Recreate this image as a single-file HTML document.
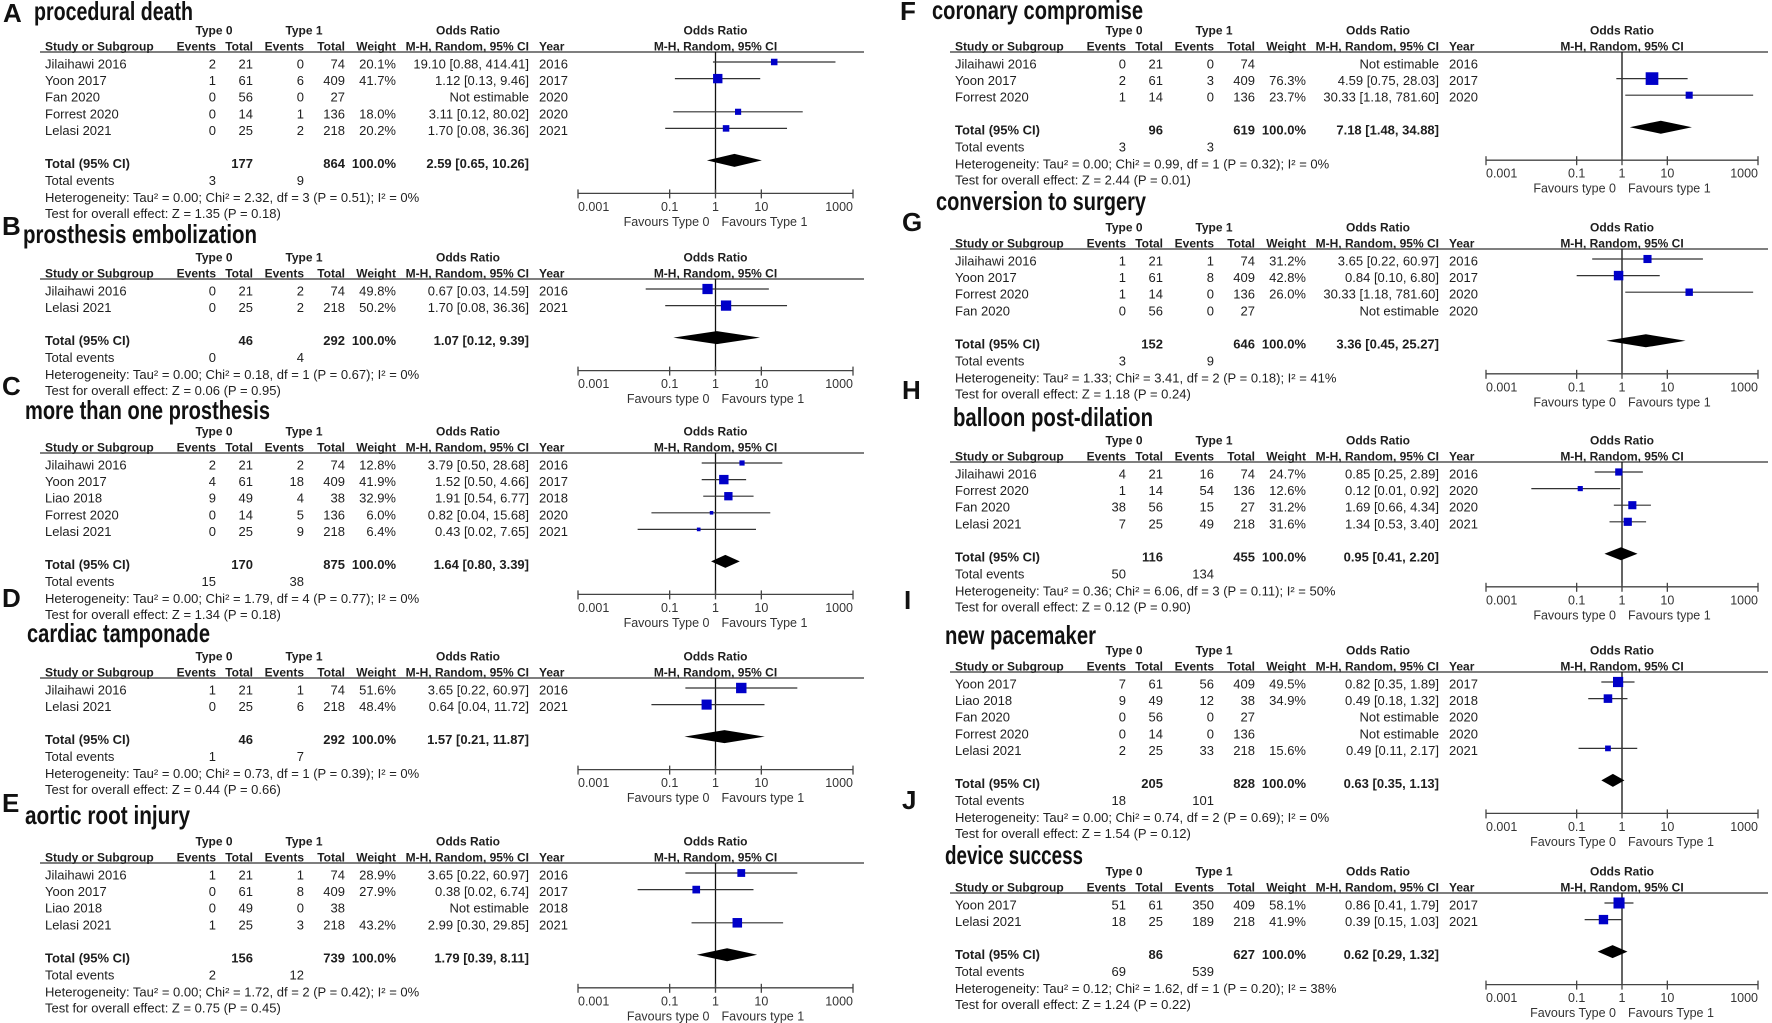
<!DOCTYPE html>
<html><head><meta charset="utf-8">
<style>
html,body{margin:0;padding:0;background:#fff;}
svg{display:block;}
text{font-family:"Liberation Sans",Arial,sans-serif;}
</style></head>
<body>
<svg id="fig" width="1772" height="1023" viewBox="0 0 1772 1023" xmlns="http://www.w3.org/2000/svg"></svg>
<script>
// ---- Panel A: procedural death ----
const A_study=["Jilaihawi 2016","Yoon 2017","Fan 2020","Forrest 2020","Lelasi 2021"];
const A_e0=[2,1,0,0,0], A_n0=[21,61,56,14,25], A_e1=[0,6,0,1,2], A_n1=[74,409,27,136,218];
const A_w=[20.1,41.7,null,18.0,20.2], A_or=[19.10,1.12,null,3.11,1.70], A_lo=[0.88,0.13,null,0.12,0.08], A_hi=[414.41,9.46,null,80.02,36.36];
const A_year=[2016,2017,2020,2020,2021];
const A_tot=[2.59,0.65,10.26], A_totN=[177,864], A_totE=[3,9];
// ---- Panel B: prosthesis embolization ----
const B_study=["Jilaihawi 2016","Lelasi 2021"];
const B_e0=[0,0], B_n0=[21,25], B_e1=[2,2], B_n1=[74,218];
const B_w=[49.8,50.2], B_or=[0.67,1.70], B_lo=[0.03,0.08], B_hi=[14.59,36.36], B_year=[2016,2021];
const B_tot=[1.07,0.12,9.39], B_totN=[46,292], B_totE=[0,4];
// ---- Panel C: more than one prosthesis ----
const C_study=["Jilaihawi 2016","Yoon 2017","Liao 2018","Forrest 2020","Lelasi 2021"];
const C_e0=[2,4,9,0,0], C_n0=[21,61,49,14,25], C_e1=[2,18,4,5,9], C_n1=[74,409,38,136,218];
const C_w=[12.8,41.9,32.9,6.0,6.4], C_or=[3.79,1.52,1.91,0.82,0.43], C_lo=[0.50,0.50,0.54,0.04,0.02], C_hi=[28.68,4.66,6.77,15.68,7.65];
const C_year=[2016,2017,2018,2020,2021];
const C_tot=[1.64,0.80,3.39], C_totN=[170,875], C_totE=[15,38];
// ---- Panel D: cardiac tamponade ----
const D_study=["Jilaihawi 2016","Lelasi 2021"];
const D_e0=[1,0], D_n0=[21,25], D_e1=[1,6], D_n1=[74,218];
const D_w=[51.6,48.4], D_or=[3.65,0.64], D_lo=[0.22,0.04], D_hi=[60.97,11.72], D_year=[2016,2021];
const D_tot=[1.57,0.21,11.87], D_totN=[46,292], D_totE=[1,7];
// ---- Panel E: aortic root injury ----
const E_study=["Jilaihawi 2016","Yoon 2017","Liao 2018","Lelasi 2021"];
const E_e0=[1,0,0,1], E_n0=[21,61,49,25], E_e1=[1,8,0,3], E_n1=[74,409,38,218];
const E_w=[28.9,27.9,null,43.2], E_or=[3.65,0.38,null,2.99], E_lo=[0.22,0.02,null,0.30], E_hi=[60.97,6.74,null,29.85];
const E_year=[2016,2017,2018,2021];
const E_tot=[1.79,0.39,8.11], E_totN=[156,739], E_totE=[2,12];
// ---- Panel F: coronary compromise ----
const F_study=["Jilaihawi 2016","Yoon 2017","Forrest 2020"];
const F_e0=[0,2,1], F_n0=[21,61,14], F_e1=[0,3,0], F_n1=[74,409,136];
const F_w=[null,76.3,23.7], F_or=[null,4.59,30.33], F_lo=[null,0.75,1.18], F_hi=[null,28.03,781.60], F_year=[2016,2017,2020];
const F_tot=[7.18,1.48,34.88], F_totN=[96,619], F_totE=[3,3];
// ---- Panel G: conversion to surgery ----
const G_study=["Jilaihawi 2016","Yoon 2017","Forrest 2020","Fan 2020"];
const G_e0=[1,1,1,0], G_n0=[21,61,14,56], G_e1=[1,8,0,0], G_n1=[74,409,136,27];
const G_w=[31.2,42.8,26.0,null], G_or=[3.65,0.84,30.33,null], G_lo=[0.22,0.10,1.18,null], G_hi=[60.97,6.80,781.60,null];
const G_year=[2016,2017,2020,2020];
const G_tot=[3.36,0.45,25.27], G_totN=[152,646], G_totE=[3,9];
// ---- Panel H: balloon post-dilation ----
const H_study=["Jilaihawi 2016","Forrest 2020","Fan 2020","Lelasi 2021"];
const H_e0=[4,1,38,7], H_n0=[21,14,56,25], H_e1=[16,54,15,49], H_n1=[74,136,27,218];
const H_w=[24.7,12.6,31.2,31.6], H_or=[0.85,0.12,1.69,1.34], H_lo=[0.25,0.01,0.66,0.53], H_hi=[2.89,0.92,4.34,3.40];
const H_year=[2016,2020,2020,2021];
const H_tot=[0.95,0.41,2.20], H_totN=[116,455], H_totE=[50,134];
// ---- Panel I: new pacemaker ----
const I_study=["Yoon 2017","Liao 2018","Fan 2020","Forrest 2020","Lelasi 2021"];
const I_e0=[7,9,0,0,2], I_n0=[61,49,56,14,25], I_e1=[56,12,0,0,33], I_n1=[409,38,27,136,218];
const I_w=[49.5,34.9,null,null,15.6], I_or=[0.82,0.49,null,null,0.49], I_lo=[0.35,0.18,null,null,0.11], I_hi=[1.89,1.32,null,null,2.17];
const I_year=[2017,2018,2020,2020,2021];
const I_tot=[0.63,0.35,1.13], I_totN=[205,828], I_totE=[18,101];
// ---- Panel J: device success ----
const J_study=["Yoon 2017","Lelasi 2021"];
const J_e0=[51,18], J_n0=[61,25], J_e1=[350,189], J_n1=[409,218];
const J_w=[58.1,41.9], J_or=[0.86,0.39], J_lo=[0.41,0.15], J_hi=[1.79,1.03], J_year=[2017,2021];
const J_tot=[0.62,0.29,1.32], J_totN=[86,627], J_totE=[69,539];
// ---- axis ticks ----
const tickVals=[0.001,0.1,1,10,1000];
const tickLabels=["0.001","0.1","1","10","1000"];

const panels=[
 {id:"a",letter:"A",title:"procedural death",tw:159,lx:3,ly:13,tx:34,ty:13,col:0,line:52,fav:"Type",
  s:A_study,e0:A_e0,n0:A_n0,e1:A_e1,n1:A_n1,w:A_w,or:A_or,lo:A_lo,hi:A_hi,yr:A_year,tot:A_tot,totN:A_totN,totE:A_totE,
  het:"Heterogeneity: Tau² = 0.00; Chi² = 2.32, df = 3 (P = 0.51); I² = 0%",test:"Test for overall effect: Z = 1.35 (P = 0.18)"},
 {id:"b",letter:"B",title:"prosthesis embolization",tw:234,lx:2,ly:226,tx:23,ty:236,col:0,line:279,fav:"type",
  s:B_study,e0:B_e0,n0:B_n0,e1:B_e1,n1:B_n1,w:B_w,or:B_or,lo:B_lo,hi:B_hi,yr:B_year,tot:B_tot,totN:B_totN,totE:B_totE,
  het:"Heterogeneity: Tau² = 0.00; Chi² = 0.18, df = 1 (P = 0.67); I² = 0%",test:"Test for overall effect: Z = 0.06 (P = 0.95)"},
 {id:"c",letter:"C",title:"more than one prosthesis",tw:245,lx:2,ly:386,tx:25,ty:412,col:0,line:453,fav:"Type",
  s:C_study,e0:C_e0,n0:C_n0,e1:C_e1,n1:C_n1,w:C_w,or:C_or,lo:C_lo,hi:C_hi,yr:C_year,tot:C_tot,totN:C_totN,totE:C_totE,
  het:"Heterogeneity: Tau² = 0.00; Chi² = 1.79, df = 4 (P = 0.77); I² = 0%",test:"Test for overall effect: Z = 1.34 (P = 0.18)"},
 {id:"d",letter:"D",title:"cardiac tamponade",tw:183,lx:2,ly:598,tx:27,ty:635,col:0,line:678,fav:"type",
  s:D_study,e0:D_e0,n0:D_n0,e1:D_e1,n1:D_n1,w:D_w,or:D_or,lo:D_lo,hi:D_hi,yr:D_year,tot:D_tot,totN:D_totN,totE:D_totE,
  het:"Heterogeneity: Tau² = 0.00; Chi² = 0.73, df = 1 (P = 0.39); I² = 0%",test:"Test for overall effect: Z = 0.44 (P = 0.66)"},
 {id:"e",letter:"E",title:"aortic root injury",tw:165,lx:2,ly:803,tx:25,ty:817,col:0,line:863,fav:"type",
  s:E_study,e0:E_e0,n0:E_n0,e1:E_e1,n1:E_n1,w:E_w,or:E_or,lo:E_lo,hi:E_hi,yr:E_year,tot:E_tot,totN:E_totN,totE:E_totE,
  het:"Heterogeneity: Tau² = 0.00; Chi² = 1.72, df = 2 (P = 0.42); I² = 0%",test:"Test for overall effect: Z = 0.75 (P = 0.45)"},
 {id:"f",letter:"F",title:"coronary compromise",tw:211,lx:900,ly:11,tx:932,ty:12,col:1,line:52,fav:"type",
  s:F_study,e0:F_e0,n0:F_n0,e1:F_e1,n1:F_n1,w:F_w,or:F_or,lo:F_lo,hi:F_hi,yr:F_year,tot:F_tot,totN:F_totN,totE:F_totE,
  het:"Heterogeneity: Tau² = 0.00; Chi² = 0.99, df = 1 (P = 0.32); I² = 0%",test:"Test for overall effect: Z = 2.44 (P = 0.01)"},
 {id:"g",letter:"G",title:"conversion to surgery",tw:210,lx:902,ly:222,tx:936,ty:203,col:1,line:249,fav:"type",
  s:G_study,e0:G_e0,n0:G_n0,e1:G_e1,n1:G_n1,w:G_w,or:G_or,lo:G_lo,hi:G_hi,yr:G_year,tot:G_tot,totN:G_totN,totE:G_totE,
  het:"Heterogeneity: Tau² = 1.33; Chi² = 3.41, df = 2 (P = 0.18); I² = 41%",test:"Test for overall effect: Z = 1.18 (P = 0.24)"},
 {id:"h",letter:"H",title:"balloon post-dilation",tw:200,lx:902,ly:390,tx:953,ty:419,col:1,line:462,fav:"type",
  s:H_study,e0:H_e0,n0:H_n0,e1:H_e1,n1:H_n1,w:H_w,or:H_or,lo:H_lo,hi:H_hi,yr:H_year,tot:H_tot,totN:H_totN,totE:H_totE,
  het:"Heterogeneity: Tau² = 0.36; Chi² = 6.06, df = 3 (P = 0.11); I² = 50%",test:"Test for overall effect: Z = 0.12 (P = 0.90)"},
 {id:"i",letter:"I",title:"new pacemaker",tw:151,lx:904,ly:600,tx:945,ty:637,col:1,line:672,fav:"Type",
  s:I_study,e0:I_e0,n0:I_n0,e1:I_e1,n1:I_n1,w:I_w,or:I_or,lo:I_lo,hi:I_hi,yr:I_year,tot:I_tot,totN:I_totN,totE:I_totE,
  het:"Heterogeneity: Tau² = 0.00; Chi² = 0.74, df = 2 (P = 0.69); I² = 0%",test:"Test for overall effect: Z = 1.54 (P = 0.12)"},
 {id:"j",letter:"J",title:"device success",tw:138,lx:902,ly:800,tx:945,ty:857,col:1,line:893,fav:"Type",
  s:J_study,e0:J_e0,n0:J_n0,e1:J_e1,n1:J_n1,w:J_w,or:J_or,lo:J_lo,hi:J_hi,yr:J_year,tot:J_tot,totN:J_totN,totE:J_totE,
  het:"Heterogeneity: Tau² = 0.12; Chi² = 1.62, df = 1 (P = 0.20); I² = 38%",test:"Test for overall effect: Z = 1.24 (P = 0.22)"}
];

const NS="http://www.w3.org/2000/svg";
const svg=document.getElementById("fig");
function mk(tag,attrs,parent,txt){
  const el=document.createElementNS(NS,tag);
  for(const k in attrs) el.setAttribute(k,attrs[k]);
  if(txt!==undefined) el.textContent=txt;
  (parent||svg).appendChild(el);
  return el;
}
function T(g,x,y,s,opt){
  opt=opt||{};
  const a={x:x,y:y+4.5,"font-size":opt.fs||(opt.hdr?12:13),fill:opt.fill||"#1e1e1e"};
  if(opt.anchor) a["text-anchor"]=opt.anchor;
  if(opt.bold) a["font-weight"]="bold";
  const t=mk("text",a,g,s);
  
  
  return t;
}
function fmt(v){return v.toFixed(2);}

panels.forEach(p=>{
  const off=p.col?910:0;
  const ax0=p.col?1486:578, ax1=p.col?1758:853;
  const xs=v=>ax0+(Math.log10(v)+3)/6*(ax1-ax0);
  const g=mk("g",{});
  
  
  const L=mk("text",{x:p.lx,y:p.ly+9,"font-size":26,"font-weight":"bold",fill:"#111"},g,p.letter);
  
  
  const TT=mk("text",{x:p.tx,y:p.ty+7,"font-size":26,"font-weight":"bold",fill:"#111","font-family":"Liberation Serif, serif",textLength:p.tw,lengthAdjust:"spacingAndGlyphs"},g,p.title);
  
  
  const ln=p.line;
  const hy1=ln-22, hy2=ln-6;
  T(g,off+214,hy1,"Type 0",{bold:1,hdr:1,anchor:"middle",name:"group-header"});
  T(g,off+304,hy1,"Type 1",{bold:1,hdr:1,anchor:"middle",name:"group-header"});
  T(g,off+468,hy1,"Odds Ratio",{bold:1,hdr:1,anchor:"middle",name:"column-header"});
  T(g,xs(1),hy1,"Odds Ratio",{bold:1,hdr:1,anchor:"middle",name:"plot-header"});
  T(g,off+45,hy2,"Study or Subgroup",{bold:1,hdr:1,name:"column-header"});
  T(g,off+216,hy2,"Events",{bold:1,hdr:1,anchor:"end",name:"column-header"});
  T(g,off+253,hy2,"Total",{bold:1,hdr:1,anchor:"end",name:"column-header"});
  T(g,off+304,hy2,"Events",{bold:1,hdr:1,anchor:"end",name:"column-header"});
  T(g,off+345,hy2,"Total",{bold:1,hdr:1,anchor:"end",name:"column-header"});
  T(g,off+396,hy2,"Weight",{bold:1,hdr:1,anchor:"end",name:"column-header"});
  T(g,off+529,hy2,"M-H, Random, 95% CI",{bold:1,hdr:1,anchor:"end",name:"column-header"});
  T(g,off+539,hy2,"Year",{bold:1,hdr:1,name:"column-header"});
  T(g,xs(1),hy2,"M-H, Random, 95% CI",{bold:1,hdr:1,anchor:"middle",name:"plot-header"});
  const hl=mk("line",{x1:off+40,x2:p.col?1768:864,y1:ln,y2:ln,stroke:"#333","stroke-width":1.3},g);
  
  
  const n=p.s.length;
  const rowY=i=>ln+10+i*16.6;
  const dY=rowY(n-1)+32;
  const axY=dY+33;
  const rl=mk("line",{x1:xs(1),x2:xs(1),y1:ln,y2:axY,stroke:"#111","stroke-width":1.3},g);
  
  
  for(let i=0;i<n;i++){
    const y=rowY(i)+2;
    T(g,off+45,y,p.s[i],{name:"study-name"});
    T(g,off+216,y,String(p.e0[i]),{anchor:"end",name:"events-type0"});
    T(g,off+253,y,String(p.n0[i]),{anchor:"end",name:"total-type0"});
    T(g,off+304,y,String(p.e1[i]),{anchor:"end",name:"events-type1"});
    T(g,off+345,y,String(p.n1[i]),{anchor:"end",name:"total-type1"});
    if(p.w[i]!=null) T(g,off+396,y,p.w[i].toFixed(1)+"%",{anchor:"end",name:"weight"});
    T(g,off+529,y,p.or[i]!=null?fmt(p.or[i])+" ["+fmt(p.lo[i])+", "+fmt(p.hi[i])+"]":"Not estimable",{anchor:"end",name:"odds-ratio-text"});
    T(g,off+539,y,String(p.yr[i]),{name:"year"});
    if(p.or[i]!=null){
      const cy=rowY(i);
      const lo=Math.max(0.001,p.lo[i]), hi=Math.min(1000,p.hi[i]);
      const wl=mk("line",{x1:xs(lo),x2:xs(hi),y1:cy,y2:cy,stroke:"#333","stroke-width":1.2},g);
      
      
      const sz=Math.max(3.5,1.45*Math.sqrt(p.w[i]));
      const sq=mk("rect",{x:xs(p.or[i])-sz/2,y:cy-sz/2,width:sz,height:sz,fill:"#0000c8"},g);
      
      
    }
  }
  T(g,off+45,dY+3,"Total (95% CI)",{bold:1,name:"total-label"});
  T(g,off+253,dY+3,String(p.totN[0]),{bold:1,anchor:"end",name:"total-n-type0"});
  T(g,off+345,dY+3,String(p.totN[1]),{bold:1,anchor:"end",name:"total-n-type1"});
  T(g,off+396,dY+3,"100.0%",{bold:1,anchor:"end",name:"total-weight"});
  T(g,off+529,dY+3,fmt(p.tot[0])+" ["+fmt(p.tot[1])+", "+fmt(p.tot[2])+"]",{bold:1,anchor:"end",name:"pooled-or-text"});
  T(g,off+45,dY+20,"Total events",{name:"total-events-label"});
  T(g,off+216,dY+20,String(p.totE[0]),{anchor:"end",name:"total-events-type0"});
  T(g,off+304,dY+20,String(p.totE[1]),{anchor:"end",name:"total-events-type1"});
  T(g,off+45,dY+37,p.het,{name:"heterogeneity-text"});
  T(g,off+45,dY+53,p.test,{name:"overall-effect-text"});
  const dm=mk("polygon",{points:[xs(p.tot[1])+","+dY,xs(p.tot[0])+","+(dY-6.5),xs(p.tot[2])+","+dY,xs(p.tot[0])+","+(dY+6.5)].join(" "),fill:"#000"},g);
  
  
  const al=mk("line",{x1:ax0,x2:ax1,y1:axY,y2:axY,stroke:"#444","stroke-width":1.3},g);
  
  
  tickVals.forEach((v,k)=>{
    const tx=xs(v);
    const tk=mk("line",{x1:tx,x2:tx,y1:axY-4,y2:axY+5,stroke:"#444","stroke-width":1.3},g);
    
    
    const anc=k===0?"start":(k===tickVals.length-1?"end":"middle");
    T(g,tx,axY+13,tickLabels[k],{anchor:anc,fill:"#333",fs:12.5,name:"x-tick-label"});
  });
  T(g,xs(1)-6,axY+28,"Favours "+p.fav+" 0",{anchor:"end",fill:"#333",fs:12.5,name:"favours-left-label"});
  T(g,xs(1)+6,axY+28,"Favours "+p.fav+" 1",{fill:"#333",fs:12.5,name:"favours-right-label"});
});
</script>
</body></html>
